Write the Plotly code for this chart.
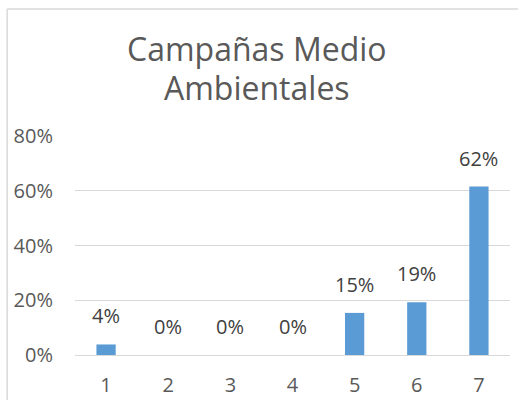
import plotly.graph_objects as go

categories = [1, 2, 3, 4, 5, 6, 7]
values = [0.0385, 0.0, 0.0, 0.0, 0.1538, 0.1923, 0.6154]
labels = ["4%", "0%", "0%", "0%", "15%", "19%", "62%"]
y_ticks = [0, 0.2, 0.4, 0.6, 0.8]
y_tick_text = ["0%", "20%", "40%", "60%", "80%"]
title_lines = ["Campañas Medio", "Ambientales"]

FONT = "Open Sans"
fig = go.Figure()
fig.add_trace(go.Bar(x=categories, y=values, marker_color="#5B9BD5",
                     marker_line_width=0, width=0.31))

for c, v, t in zip(categories, values, labels):
    fig.add_annotation(x=c, y=v, xref="x", yref="y", text=t, showarrow=False,
                       yanchor="bottom", yshift=13,
                       font=dict(family=FONT, size=20, color="#404040"))

# title as two lines
for i, line in enumerate(title_lines):
    fig.add_annotation(x=0.4195, xref="paper", yref="paper", y=[1.40, 1.222][i],
                       xanchor="center", yanchor="middle", text=line, showarrow=False,
                       font=dict(family=FONT, size=32, color="#595959"))

# chart border (extends beyond the visible picture on the right/bottom)
fig.add_shape(type="line", xref="paper", yref="paper", x0=-0.156, x1=-0.156, y0=-1, y1=1.58,
              line=dict(color="#D9D9D9", width=1.5))
fig.add_shape(type="line", xref="paper", yref="paper", x0=-0.156, x1=2, y0=1.58, y1=1.58,
              line=dict(color="#D9D9D9", width=1.5))

fig.update_layout(
    width=518, height=400,
    margin=dict(l=75, r=8, t=136, b=45),
    paper_bgcolor="white", plot_bgcolor="white",
    showlegend=False,
    xaxis=dict(range=[0.5, 7.5], tickvals=categories, showgrid=False, showline=False,
               zeroline=False, ticks="", ticklabelstandoff=16, automargin=False,
               tickfont=dict(family=FONT, size=20, color="#595959")),
    yaxis=dict(range=[0, 0.8], tickvals=y_ticks, ticktext=y_tick_text,
               showgrid=True, gridcolor="#D9D9D9", gridwidth=1.3, zeroline=True,
               zerolinecolor="#D9D9D9", zerolinewidth=1.3, showline=False,
               ticks="outside", ticklen=17, tickcolor="rgba(0,0,0,0)", automargin=False,
               tickfont=dict(family=FONT, size=20, color="#595959")),
)

fig.write_html("out.html", config={"displayModeBar": False},
               post_script="document.body.style.margin='0';document.body.style.overflow='hidden';")
